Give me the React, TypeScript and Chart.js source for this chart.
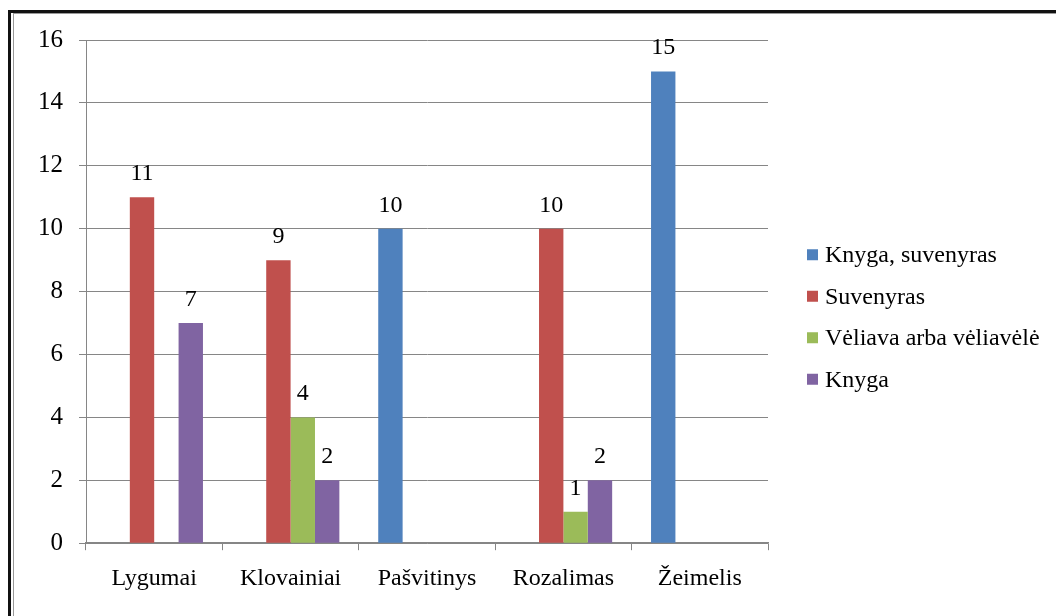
import React, { useEffect, useRef } from "react";
import { Chart, registerables } from "chart.js";

Chart.register(...registerables);

const categories = ["Lygumai", "Klovainiai", "Pašvitinys", "Rozalimas", "Žeimelis"];
const seriesNames = ["Knyga, suvenyras", "Suvenyras", "Vėliava arba vėliavėlė", "Knyga"];
const knygaSuvenyras = [null, null, 10, null, 15];
const suvenyras = [11, 9, null, 10, null];
const veliava = [null, 4, null, 1, null];
const knyga = [7, 2, null, 2, null];
const seriesColors = ["#4F81BD", "#C0504D", "#9BBB59", "#8064A2"];
const yMin = 0;
const yMax = 16;
const yStep = 2;

const FONT = "'Liberation Serif', 'Times New Roman', serif";

const valueLabels = {
  id: "valueLabels",
  afterDatasetsDraw(chart: any) {
    const ctx = chart.ctx;
    ctx.save();
    ctx.fillStyle = "#000";
    ctx.font = `24px ${FONT}`;
    ctx.textAlign = "center";
    ctx.textBaseline = "alphabetic";
    chart.data.datasets.forEach((ds: any, di: number) => {
      const meta = chart.getDatasetMeta(di);
      meta.data.forEach((bar: any, i: number) => {
        const v = ds.data[i];
        if (v === null || v === undefined) return;
        ctx.fillText(String(v), bar.x, bar.y - 17);
      });
    });
    ctx.restore();
  },
};

const sideLegend = {
  id: "sideLegend",
  afterDraw(chart: any) {
    const ctx = chart.ctx;
    const area = chart.chartArea;
    const items = chart.data.datasets;
    const rowGap = 41.5;
    const box = 11;
    const x0 = area.right + 39;
    const cy = chart.height / 2 + 9;
    const startY = cy - ((items.length - 1) * rowGap) / 2;
    ctx.save();
    ctx.font = `24px ${FONT}`;
    ctx.textBaseline = "middle";
    ctx.textAlign = "left";
    items.forEach((ds: any, i: number) => {
      const y = startY + i * rowGap;
      ctx.fillStyle = ds.backgroundColor;
      ctx.fillRect(x0, y - box / 2, box, box);
      ctx.fillStyle = "#000";
      ctx.fillText(ds.label, x0 + 18, y + 1);
    });
    ctx.restore();
  },
};

export default function App() {
  const ref = useRef<HTMLCanvasElement | null>(null);

  useEffect(() => {
    if (!ref.current) return;
    const seriesData = [knygaSuvenyras, suvenyras, veliava, knyga];
    const chart = new Chart(ref.current, {
      type: "bar",
      data: {
        labels: categories,
        datasets: seriesNames.map((name, i) => ({
          label: name,
          data: seriesData[i],
          backgroundColor: seriesColors[i],
          borderWidth: 0,
          barPercentage: 1,
          categoryPercentage: 0.715,
        })),
      },
      options: {
        responsive: false,
        animation: false,
        layout: { padding: { top: 40, left: 22, right: 288, bottom: 9 } },
        plugins: {
          legend: { display: false },
          tooltip: { enabled: false },
        },
        scales: {
          x: {
            grid: {
              offset: true,
              drawOnChartArea: false,
              drawTicks: true,
              tickLength: 7,
              color: "#868686",
            },
            border: { color: "#868686", width: 1.5 },
            ticks: {
              color: "#000",
              padding: 14,
              font: { family: FONT, size: 24 },
            },
          },
          y: {
            min: yMin,
            max: yMax,
            grid: {
              color: "#868686",
              tickLength: 7,
              drawTicks: true,
            },
            border: { color: "#868686" },
            ticks: {
              stepSize: yStep,
              color: "#000",
              padding: 16,
              font: { family: FONT, size: 25 },
            },
          },
        },
      },
      plugins: [valueLabels, sideLegend],
    });
    return () => chart.destroy();
  }, []);

  return (
    <div style={{ position: "fixed", left: 0, top: 0, width: 1056, height: 616, background: "#fff", overflow: "hidden" }}>
      <div style={{ position: "absolute", left: 8, top: 10, width: 1100, height: 700, borderLeft: "3px solid #111", borderTop: "3px solid #111" }} />
      <div style={{ position: "absolute", left: 13, top: 13, width: 1100, height: 700, borderLeft: "1px solid #999", borderTop: "1px solid #999" }} />
      <canvas ref={ref} width={1056} height={616} style={{ position: "absolute", left: 0, top: 0, width: 1056, height: 616 }} />
    </div>
  );
}
